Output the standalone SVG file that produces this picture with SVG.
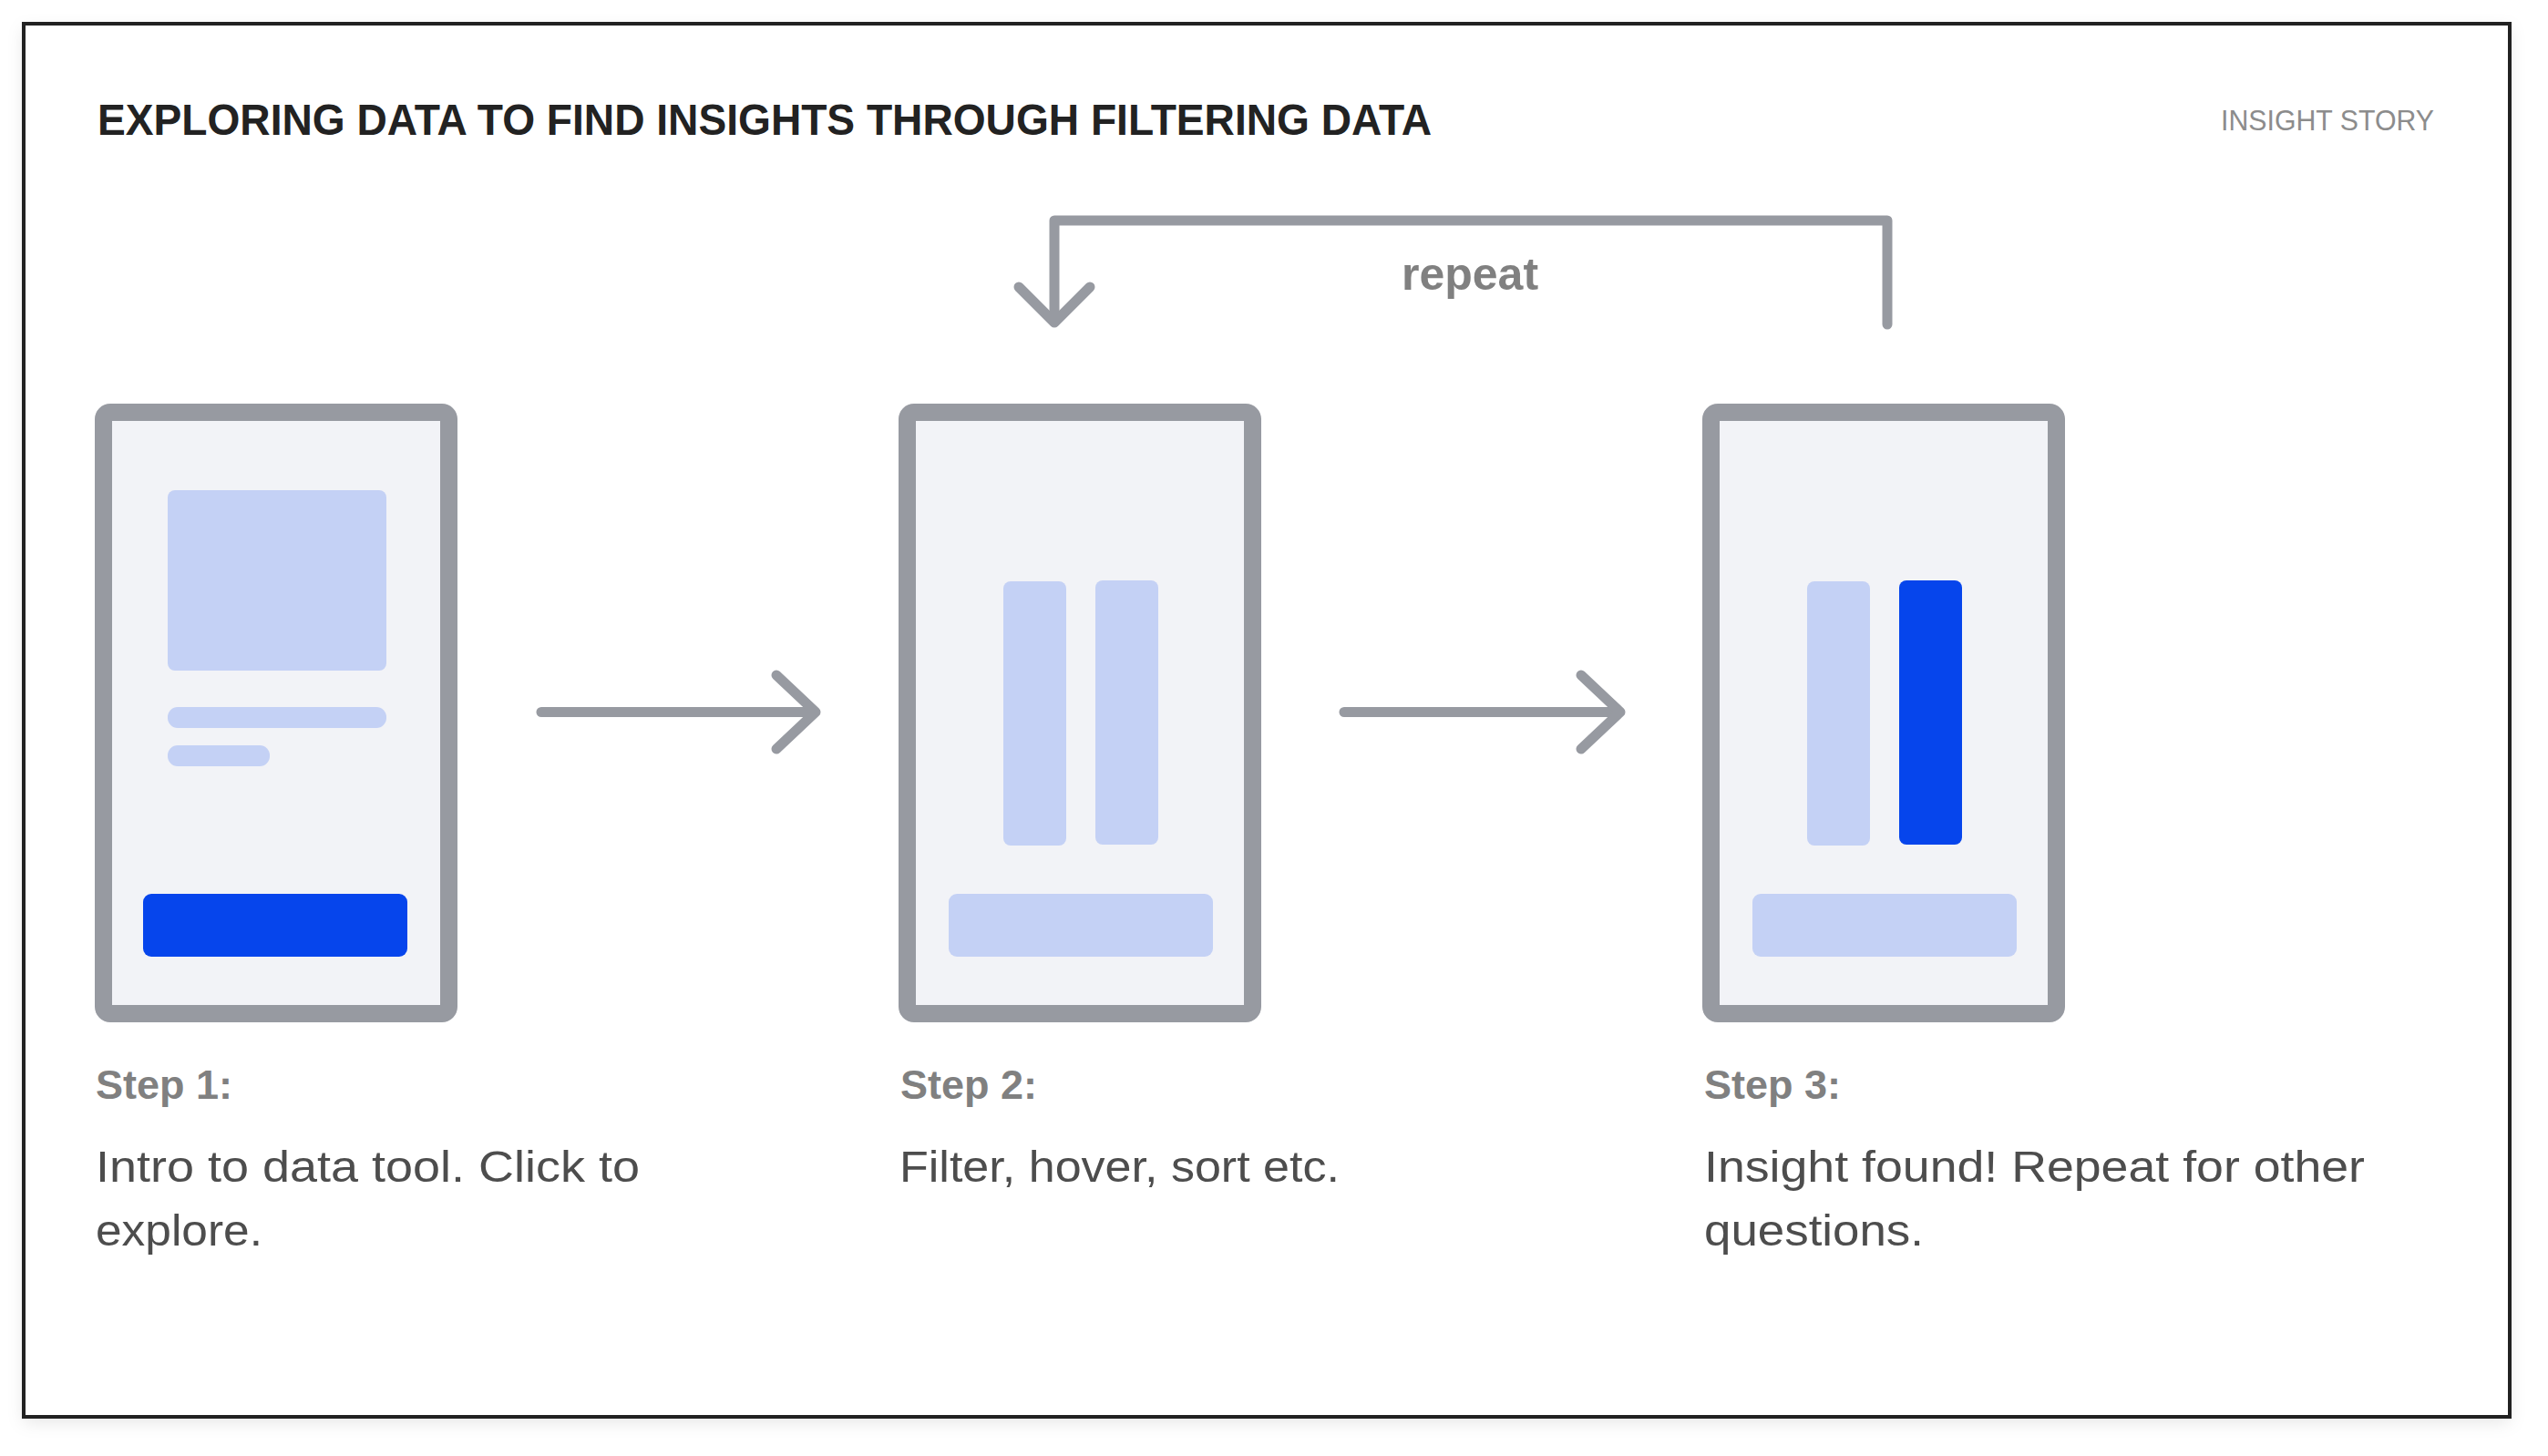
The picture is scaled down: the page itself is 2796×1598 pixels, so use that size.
<svg xmlns="http://www.w3.org/2000/svg" width="2796" height="1598" viewBox="0 0 2796 1598">
  <defs>
    <filter id="shadow" x="-5%" y="-5%" width="110%" height="110%">
      <feDropShadow dx="0" dy="6" stdDeviation="9" flood-color="#000" flood-opacity="0.10"/>
    </filter>
  </defs>
  <style>
    .phone-outer { fill: #979aa1; }
    .phone-inner { fill: #f2f3f7; }
    .light { fill: #c4d1f5; }
    .blue { fill: #0645ec; }
    .conn { fill: none; stroke: #979aa1; stroke-width: 11; stroke-linecap: round; stroke-linejoin: round; }
    .title { font-family: "Liberation Sans", Arial, sans-serif; font-weight: 700; font-size: 48px; fill: #222222; }
    .tag { font-family: "Liberation Sans", Arial, sans-serif; font-weight: 400; font-size: 32px; fill: #8c8c8c; }
    .repeat { font-family: "Liberation Sans", Arial, sans-serif; font-weight: 700; font-size: 50px; fill: #808080; }
    .step { font-family: "Liberation Sans", Arial, sans-serif; font-weight: 700; font-size: 45px; fill: #808080; }
    .body { font-family: "Liberation Sans", Arial, sans-serif; font-weight: 400; font-size: 49px; fill: #4d4d4d; }
  </style>

  <rect x="0" y="0" width="2796" height="1598" fill="#ffffff"/>
  <g id="frame">
    <rect x="26" y="26" width="2728" height="1529" fill="#ffffff" filter="url(#shadow)"/>
    <rect x="26" y="26" width="2728" height="1529" fill="none" stroke="#222222" stroke-width="4"/>
  </g>

  <g id="header">
    <text class="title" x="107" y="148" textLength="1464" lengthAdjust="spacingAndGlyphs">EXPLORING DATA TO FIND INSIGHTS THROUGH FILTERING DATA</text>
    <text class="tag" x="2437" y="143" textLength="234" lengthAdjust="spacingAndGlyphs">INSIGHT STORY</text>
  </g>

  <g id="connectors">
    <g id="arrow-1-2">
      <line class="conn" x1="594" y1="781.5" x2="893" y2="781.5"/>
      <polyline class="conn" points="852,741 895,781.5 852,822"/>
    </g>
    <g id="arrow-2-3">
      <line class="conn" x1="1475" y1="781.5" x2="1776" y2="781.5"/>
      <polyline class="conn" points="1735,741 1778,781.5 1735,822"/>
    </g>
    <g id="repeat-loop">
      <path class="conn" d="M2071 356 V242 H1157 V352" stroke-linejoin="miter"/>
      <polyline class="conn" points="1118,315 1157,354 1196,315"/>
      <text class="repeat" x="1613" y="318" text-anchor="middle">repeat</text>
    </g>
  </g>

  <g id="step1">
    <rect class="phone-outer" x="104" y="443" width="398" height="679" rx="17"/>
    <rect class="phone-inner" x="123" y="462" width="360" height="641"/>
    <rect class="light" x="184" y="538" width="240" height="198" rx="8"/>
    <rect class="light" x="184" y="776" width="240" height="23" rx="11"/>
    <rect class="light" x="184" y="818" width="112" height="23" rx="11"/>
    <rect class="blue" x="157" y="981" width="290" height="69" rx="9"/>
    <text class="step" x="105" y="1206">Step 1:</text>
    <text class="body" x="105" y="1297" textLength="597" lengthAdjust="spacingAndGlyphs">Intro to data tool. Click to</text>
    <text class="body" x="105" y="1367" textLength="183" lengthAdjust="spacingAndGlyphs">explore.</text>
  </g>

  <g id="step2">
    <rect class="phone-outer" x="986" y="443" width="398" height="679" rx="17"/>
    <rect class="phone-inner" x="1005" y="462" width="360" height="641"/>
    <rect class="light" x="1101" y="638" width="69" height="290" rx="8"/>
    <rect class="light" x="1202" y="637" width="69" height="290" rx="8"/>
    <rect class="light" x="1041" y="981" width="290" height="69" rx="9"/>
    <text class="step" x="988" y="1206">Step 2:</text>
    <text class="body" x="987" y="1297" textLength="483" lengthAdjust="spacingAndGlyphs">Filter, hover, sort etc.</text>
  </g>

  <g id="step3">
    <rect class="phone-outer" x="1868" y="443" width="398" height="679" rx="17"/>
    <rect class="phone-inner" x="1887" y="462" width="360" height="641"/>
    <rect class="light" x="1983" y="638" width="69" height="290" rx="8"/>
    <rect class="blue" x="2084" y="637" width="69" height="290" rx="8"/>
    <rect class="light" x="1923" y="981" width="290" height="69" rx="9"/>
    <text class="step" x="1870" y="1206">Step 3:</text>
    <text class="body" x="1870" y="1297" textLength="725" lengthAdjust="spacingAndGlyphs">Insight found! Repeat for other</text>
    <text class="body" x="1870" y="1367" textLength="241" lengthAdjust="spacingAndGlyphs">questions.</text>
  </g>
</svg>
